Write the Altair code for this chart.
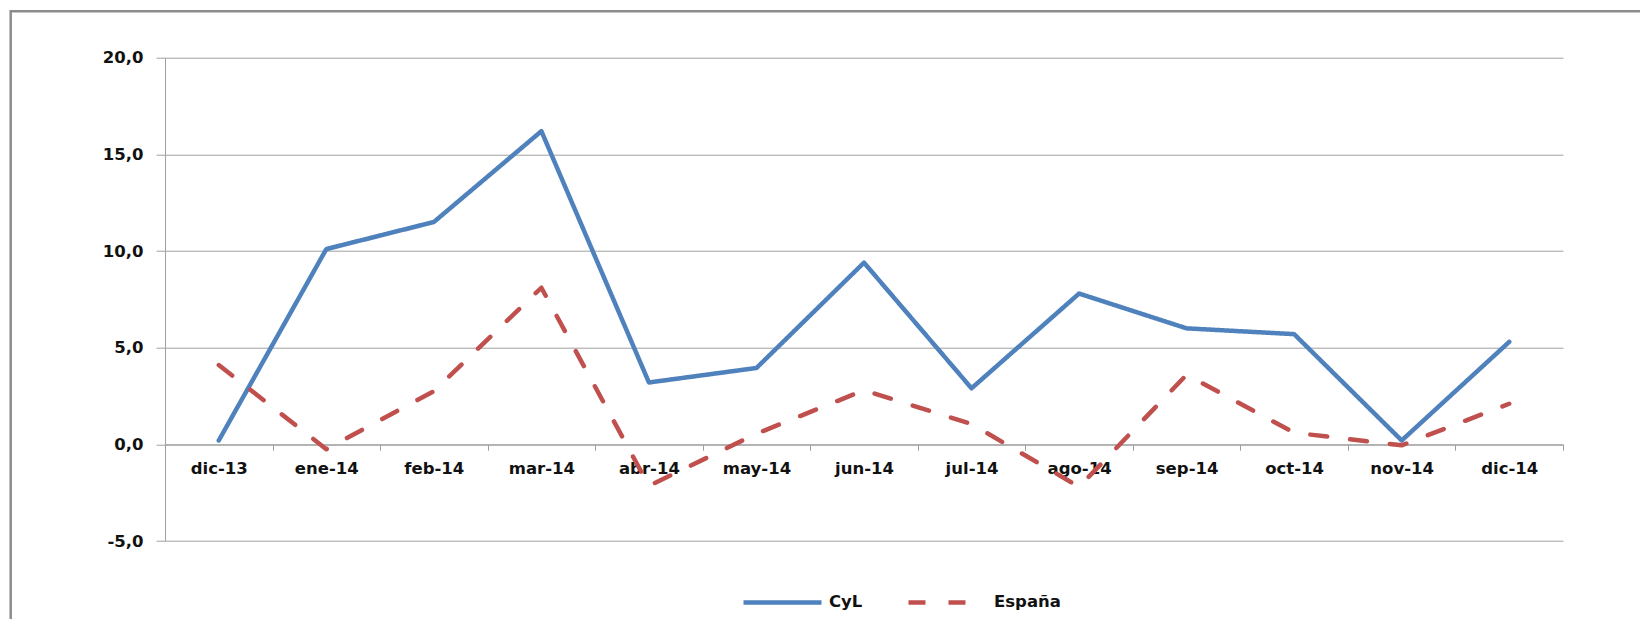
import altair as alt
import pandas as pd

months = ["dic-13", "ene-14", "feb-14", "mar-14", "abr-14", "may-14", "jun-14",
          "jul-14", "ago-14", "sep-14", "oct-14", "nov-14", "dic-14"]
cyl = [0.2, 10.1, 11.5, 16.2, 3.2, 3.95, 9.4, 2.9, 7.8, 6.0, 5.7, 0.2, 5.3]
espana = [4.1, -0.25, 2.75, 8.1, -2.15, 0.55, 2.8, 1.05, -2.2, 3.6, 0.6, -0.05, 2.1]
series = ["CyL", "España"]
y_ticks = [-5, 0, 5, 10, 15, 20]

rows = []
for m, v in zip(months, cyl):
    rows.append({"mes": m, "serie": series[0], "valor": v})
for m, v in zip(months, espana):
    rows.append({"mes": m, "serie": series[1], "valor": v})
df = pd.DataFrame(rows)

W = 1398
H = 483.3
FONT = "DejaVu Sans"
FS = 16.5
GRID = "#a0a0a0"
TXT = "#111111"

lines = alt.Chart(df).mark_line(strokeWidth=4.5, strokeCap="round", strokeJoin="round").encode(
    x=alt.X("mes:N", sort=months, bandPosition=0.5,
            scale=alt.Scale(type="band", paddingInner=0, paddingOuter=0),
            axis=alt.Axis(title=None, orient="bottom", offset=-96.7, tickBand="extent",
                          labelAngle=0, labelFont=FONT, labelFontSize=FS, labelFontWeight="bold",
                          labelColor=TXT, domainColor=GRID, tickColor=GRID, tickSize=6,
                          labelPadding=10, grid=False)),
    y=alt.Y("valor:Q",
            scale=alt.Scale(domain=[-5, 20], nice=False, zero=False),
            axis=alt.Axis(title=None, values=y_ticks,
                          labelExpr="replace(replace(format(datum.value, '.1f'), '.', ','), '\u2212', '-')",
                          labelFont=FONT, labelFontSize=FS, labelFontWeight="bold", labelColor=TXT,
                          domainColor=GRID, tickColor=GRID, tickSize=9, labelPadding=13,
                          gridColor=GRID, gridWidth=1)),
    color=alt.Color("serie:N", sort=series,
                    scale=alt.Scale(domain=series, range=["#4F81BD", "#C0504D"]),
                    legend=alt.Legend(title=None, orient="none", direction="horizontal",
                                      legendX=576, legendY=503, symbolType="stroke",
                                      symbolSize=6084, symbolStrokeWidth=4.5,
                                      labelFont=FONT, labelFontSize=FS, labelFontWeight="bold",
                                      labelColor=TXT, labelOffset=5, columnPadding=36,
                                      padding=0)),
    strokeDash=alt.StrokeDash("serie:N", sort=series,
                              scale=alt.Scale(domain=series, range=[[1, 0], [17, 23]]),
                              legend=None),
)

frame_data = alt.Data(values=[{"k": 1}])
top_border = alt.Chart(frame_data).mark_rule(color="#8c8c8c", strokeWidth=2.5).encode(
    x=alt.value(-154.3), x2=alt.value(1700), y=alt.value(-46.5))
left_border = alt.Chart(frame_data).mark_rule(color="#8c8c8c", strokeWidth=2.5).encode(
    x=alt.value(-154.3), y=alt.value(-47.7), y2=alt.value(700))

chart = alt.layer(top_border, left_border, lines).properties(
    width=W, height=H,
    autosize=alt.AutoSizeParams(type="none"),
    padding={"left": 157, "top": 49.7, "right": 77, "bottom": 78},
    background="white",
).configure_view(strokeWidth=0)

chart.save("out.html", embed_options={"renderer": "svg", "actions": False})
